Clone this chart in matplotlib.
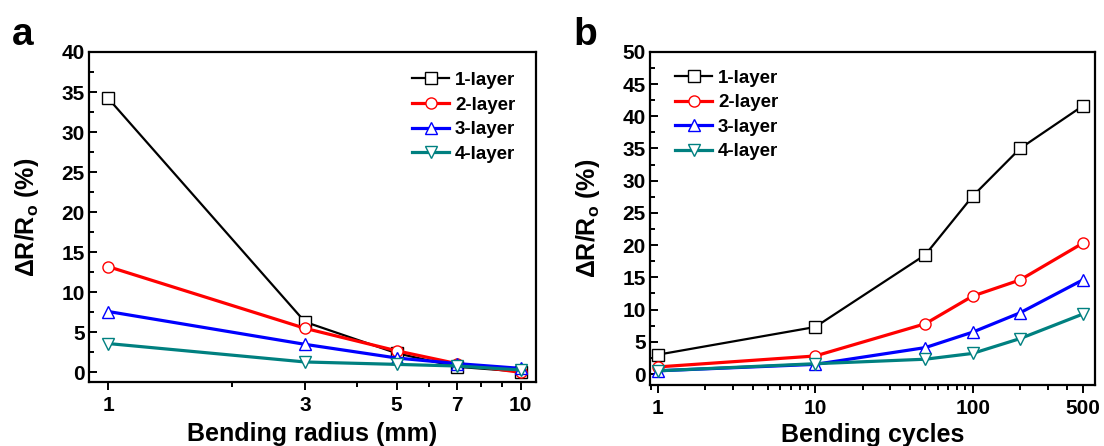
import matplotlib
matplotlib.use("Agg")
import matplotlib.pyplot as plt
from matplotlib.ticker import FixedLocator, LogLocator, MultipleLocator, NullFormatter

plt.rcParams['font.family'] = ['Liberation Sans', 'DejaVu Sans']
plt.rcParams['font.weight'] = 'bold'
plt.rcParams['mathtext.default'] = 'regular'

# panel a: bending radius
radius = [1, 3, 5, 7, 10]
a_1layer = [34.2, 6.3, 2.4, 0.7, 0.1]
a_2layer = [13.2, 5.5, 2.7, 1.1, 0.0]
a_3layer = [7.6, 3.5, 1.8, 1.1, 0.5]
a_4layer = [3.6, 1.3, 1.0, 0.8, 0.3]

# panel b: bending cycles
cycles = [1, 10, 50, 100, 200, 500]
b_1layer = [3.0, 7.3, 18.5, 27.6, 35.0, 41.6]
b_2layer = [1.1, 2.8, 7.8, 12.1, 14.6, 20.3]
b_3layer = [0.5, 1.5, 4.1, 6.5, 9.5, 14.6]
b_4layer = [0.5, 1.6, 2.3, 3.2, 5.5, 9.3]

labels = ['1-layer', '2-layer', '3-layer', '4-layer']
colors = ['black', '#ff0000', '#0000ff', '#008080']
markers = ['s', 'o', '^', 'v']
lws = [1.6, 2.3, 2.3, 2.3]

tickSize = 15
labelSize = 18
legendSize = 13.5

fig = plt.figure(figsize=(11.04, 4.46), dpi=100)
axA = fig.add_axes([0.0806, 0.1435, 0.405, 0.740])
axB = fig.add_axes([0.5888, 0.1368, 0.403, 0.747])


def draw(ax, x, series):
    for ys, lab, c, m, lw in zip(series, labels, colors, markers, lws):
        ax.plot(x, ys, color=c, lw=lw, marker=m, markersize=8,
                markerfacecolor='white', markeredgecolor=c, markeredgewidth=1.0,
                label=lab, zorder=3)


def style(ax):
    ax.set_xscale('log')
    for sp in ax.spines.values():
        sp.set_linewidth(1.6)
    ax.tick_params(axis='y', which='both', direction='in', left=True, right=False,
                   labelsize=tickSize, width=1.4, pad=3)
    ax.tick_params(axis='y', which='major', length=6)
    ax.tick_params(axis='y', which='minor', length=3.5)
    ax.tick_params(axis='x', which='both', direction='out', bottom=True, top=False,
                   labelsize=tickSize, width=1.4, pad=4)
    ax.tick_params(axis='x', which='major', length=6)
    ax.tick_params(axis='x', which='minor', length=3.5)
    ax.yaxis.set_major_locator(MultipleLocator(5))
    ax.yaxis.set_minor_locator(MultipleLocator(2.5))
    ax.xaxis.set_minor_formatter(NullFormatter())


def add_legend(ax, anchor):
    ax.legend(loc='upper left', bbox_to_anchor=anchor, frameon=False,
              fontsize=legendSize, handlelength=2.0, handletextpad=0.3,
              labelspacing=0.4, borderpad=0, borderaxespad=0, numpoints=1)


# ---- panel a ----
draw(axA, radius, [a_1layer, a_2layer, a_3layer, a_4layer])
style(axA)
axA.set_xlim(0.898, 10.9)
axA.set_ylim(-1.2, 40)
axA.xaxis.set_major_locator(FixedLocator(radius))
axA.xaxis.set_minor_locator(FixedLocator([2, 4, 6, 8, 9]))
axA.set_xticklabels([str(v) for v in radius])
axA.set_xlabel('Bending radius (mm)', fontsize=labelSize, fontweight='bold')
axA.set_ylabel('ΔR/R$_o$ (%)', fontsize=labelSize, fontweight='bold')
axA.xaxis.set_label_coords(0.5, -0.12)
axA.yaxis.set_label_coords(-0.108, 0.5)
add_legend(axA, (0.722, 0.94))

# ---- panel b ----
draw(axB, cycles, [b_1layer, b_2layer, b_3layer, b_4layer])
style(axB)
axB.set_xlim(0.893, 598)
axB.set_ylim(-1.7, 50)
axB.xaxis.set_major_locator(FixedLocator([1, 10, 100, 500]))
axB.xaxis.set_minor_locator(LogLocator(base=10, subs=range(2, 10)))
axB.set_xticklabels(['1', '10', '100', '500'])
axB.set_xlabel('Bending cycles', fontsize=labelSize, fontweight='bold')
axB.set_ylabel('ΔR/R$_o$ (%)', fontsize=labelSize, fontweight='bold')
axB.xaxis.set_label_coords(0.5, -0.115)
axB.yaxis.set_label_coords(-0.107, 0.5)
add_legend(axB, (0.056, 0.947))

fig.text(0.011, 0.899, 'a', fontsize=28, fontweight='bold')
fig.text(0.519, 0.899, 'b', fontsize=28, fontweight='bold')

plt.savefig('out.png', dpi=100)
